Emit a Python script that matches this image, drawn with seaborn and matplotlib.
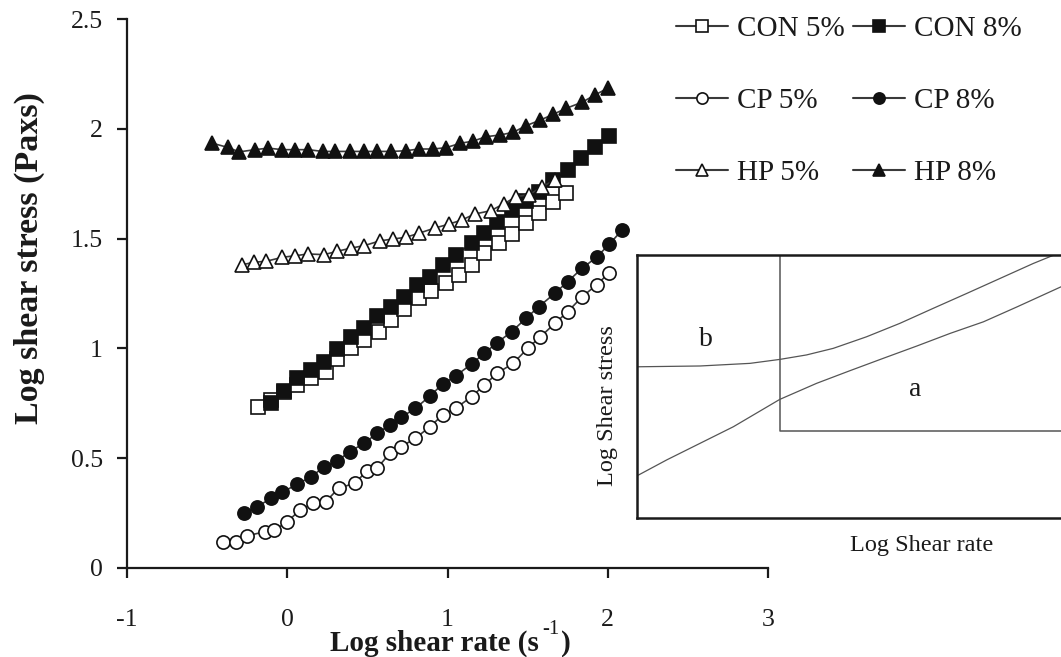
import numpy as np
import pandas as pd
import matplotlib
matplotlib.use("Agg")
import matplotlib.pyplot as plt
import seaborn as sns
from matplotlib.lines import Line2D

# ---------------- data ----------------
con5_x = [-0.18, -0.10, -0.02, 0.06, 0.15, 0.24, 0.31, 0.40, 0.48, 0.57, 0.65, 0.73,
          0.82, 0.90, 0.99, 1.07, 1.15, 1.23, 1.32, 1.40, 1.49, 1.57, 1.66, 1.74]
con5_y = [0.735, 0.765, 0.800, 0.835, 0.865, 0.894, 0.950, 1.000, 1.040, 1.076, 1.129, 1.178,
          1.228, 1.262, 1.299, 1.335, 1.380, 1.433, 1.481, 1.521, 1.572, 1.618, 1.668, 1.709]

con8_x = [-0.10, -0.02, 0.06, 0.15, 0.23, 0.31, 0.40, 0.48, 0.56, 0.65, 0.73, 0.81, 0.89,
          0.97, 1.05, 1.15, 1.23, 1.31, 1.40, 1.49, 1.57, 1.66, 1.75, 1.83, 1.92, 2.01]
con8_y = [0.750, 0.807, 0.864, 0.902, 0.939, 0.996, 1.053, 1.092, 1.149, 1.187, 1.235, 1.289, 1.327,
          1.380, 1.425, 1.479, 1.524, 1.577, 1.630, 1.673, 1.714, 1.767, 1.812, 1.867, 1.918, 1.967]

cp5_x = [-0.40, -0.32, -0.25, -0.14, -0.08, 0.00, 0.08, 0.16, 0.24, 0.32, 0.42, 0.50, 0.56, 0.64, 0.71,
         0.80, 0.89, 0.97, 1.05, 1.15, 1.23, 1.31, 1.41, 1.50, 1.58, 1.67, 1.75, 1.84, 1.93, 2.01]
cp5_y = [0.120, 0.120, 0.147, 0.165, 0.173, 0.211, 0.264, 0.295, 0.302, 0.363, 0.386, 0.443, 0.454, 0.522, 0.552,
         0.591, 0.643, 0.697, 0.727, 0.780, 0.833, 0.887, 0.932, 1.000, 1.053, 1.114, 1.167, 1.235, 1.289, 1.345]

cp8_x = [-0.27, -0.19, -0.10, -0.03, 0.06, 0.15, 0.23, 0.31, 0.39, 0.48, 0.56, 0.64, 0.71, 0.80, 0.89,
         0.97, 1.05, 1.15, 1.23, 1.31, 1.40, 1.49, 1.57, 1.67, 1.75, 1.84, 1.93, 2.01, 2.09]
cp8_y = [0.252, 0.279, 0.317, 0.345, 0.381, 0.416, 0.461, 0.487, 0.530, 0.568, 0.613, 0.651, 0.686, 0.727, 0.783,
         0.838, 0.874, 0.929, 0.978, 1.026, 1.076, 1.137, 1.190, 1.251, 1.304, 1.365, 1.415, 1.475, 1.539]

hp5_x = [-0.28, -0.21, -0.13, -0.03, 0.05, 0.13, 0.23, 0.31, 0.40, 0.48, 0.58, 0.66,
         0.74, 0.82, 0.92, 1.01, 1.09, 1.17, 1.27, 1.35, 1.43, 1.51, 1.59, 1.67]
hp5_y = [1.381, 1.392, 1.397, 1.415, 1.422, 1.430, 1.427, 1.442, 1.457, 1.468, 1.490, 1.498,
         1.506, 1.524, 1.548, 1.566, 1.585, 1.612, 1.627, 1.658, 1.691, 1.700, 1.736, 1.767]

hp8_x = [-0.47, -0.37, -0.30, -0.20, -0.12, -0.03, 0.05, 0.13, 0.22, 0.30, 0.39, 0.48, 0.56, 0.65, 0.74,
         0.82, 0.91, 0.99, 1.08, 1.16, 1.24, 1.33, 1.41, 1.49, 1.58, 1.66, 1.74, 1.84, 1.92, 2.00]
hp8_y = [1.935, 1.915, 1.895, 1.905, 1.912, 1.905, 1.905, 1.905, 1.897, 1.897, 1.897, 1.897, 1.897, 1.897, 1.900,
         1.908, 1.908, 1.914, 1.934, 1.944, 1.964, 1.972, 1.984, 2.014, 2.040, 2.066, 2.093, 2.121, 2.154, 2.185]

series_names = ["CON 5%", "CON 8%", "CP 5%", "CP 8%", "HP 5%", "HP 8%"]

x_ticks = [-1, 0, 1, 2, 3]
x_tick_labels = ["-1", "0", "1", "2", "3"]
y_ticks = [0, 0.5, 1, 1.5, 2, 2.5]
y_tick_labels = ["0", "0.5", "1", "1.5", "2", "2.5"]

# schematic inset curves (inset unit coordinates)
inset_b_x = [0.003, 0.144, 0.258, 0.326, 0.387, 0.448, 0.524, 0.600, 0.676, 0.753, 0.829, 0.905, 0.958]
inset_b_y = [0.575, 0.578, 0.588, 0.603, 0.620, 0.645, 0.689, 0.740, 0.797, 0.854, 0.911, 0.968, 1.004]
inset_a_x = [0.003, 0.068, 0.144, 0.220, 0.326, 0.410, 0.486, 0.562, 0.639, 0.715, 0.791, 0.868, 0.968]
inset_a_y = [0.163, 0.221, 0.284, 0.347, 0.451, 0.512, 0.560, 0.607, 0.654, 0.702, 0.746, 0.803, 0.879]
inset_box_x = [0.326, 0.326, 1.2]
inset_box_y = [1.0, 0.331, 0.331]

# ---------------- styling ----------------
sns.set_theme(style="white")
plt.rcParams["font.family"] = ["Liberation Serif", "DejaVu Serif"]
plt.rcParams["axes.unicode_minus"] = False

W, H = 1061, 657
fig = plt.figure(figsize=(W / 100, H / 100), dpi=100)
fig.patch.set_facecolor("white")
ink = "#1a1a1a"

ax = fig.add_axes([127 / W, (H - 568) / H, (768 - 127) / W, (568 - 19) / H])
ax.set_facecolor("white")

rows = []
for name, xs, ys in [("CON 5%", con5_x, con5_y), ("CON 8%", con8_x, con8_y),
                     ("CP 5%", cp5_x, cp5_y), ("CP 8%", cp8_x, cp8_y),
                     ("HP 5%", hp5_x, hp5_y), ("HP 8%", hp8_x, hp8_y)]:
    for a, b in zip(xs, ys):
        rows.append({"series": name, "rate": a, "stress": b})
df = pd.DataFrame(rows)

style = {
    "CON 5%": dict(marker="s", mfc="white", ms=9.8),
    "CON 8%": dict(marker="s", mfc="#111111", ms=9.8),
    "CP 5%": dict(marker="o", mfc="white", ms=9.5),
    "CP 8%": dict(marker="o", mfc="#111111", ms=9.5),
    "HP 5%": dict(marker="^", mfc="white", ms=10.5),
    "HP 8%": dict(marker="^", mfc="#111111", ms=10.5),
}
line_col = "#3a3a3a"
handles = {}
for name in series_names:
    st = style[name]
    sub = df[df["series"] == name]
    sns.lineplot(data=sub, x="rate", y="stress", ax=ax, estimator=None, sort=False,
                 color=line_col, linewidth=1.2, marker=st["marker"], markersize=st["ms"],
                 markerfacecolor=st["mfc"], markeredgecolor="#111111", markeredgewidth=1.2,
                 legend=False, clip_on=False)
    handles[name] = Line2D([0], [0], color=line_col, linewidth=1.5, marker=st["marker"],
                           markersize=st["ms"] * 0.85, markerfacecolor=st["mfc"],
                           markeredgecolor="#111111", markeredgewidth=1.2)

ax.set_xlim(-1, 3)
ax.set_ylim(0, 2.5)
ax.set_xticks(x_ticks)
ax.set_xticklabels(x_tick_labels)
ax.set_yticks(y_ticks)
ax.set_yticklabels(y_tick_labels)
ax.set_xlabel("")
ax.set_ylabel("")
for s in ["top", "right"]:
    ax.spines[s].set_visible(False)
for s in ["left", "bottom"]:
    ax.spines[s].set_color(ink)
    ax.spines[s].set_linewidth(1.6)
ax.tick_params(axis="both", which="major", direction="out", length=7.5, width=1.6,
               color=ink, labelsize=18.5, labelcolor=ink)
ax.tick_params(axis="y", pad=10, left=True)
ax.tick_params(axis="x", pad=22, bottom=True)
ax.grid(False)

fig.text(29 / W, (H - 258) / H, "Log shear stress (Paxs)", rotation=90, ha="center", va="center",
         fontsize=24.5, fontweight="bold", color=ink)

# x label with a plain hyphen superscript, built from three texts
renderer = fig.canvas.get_renderer()
base_y = (H - 651) / H
t1 = fig.text(330 / W, base_y, "Log shear rate (s", ha="left", va="baseline",
              fontsize=21, fontweight="bold", color=ink)
bb1 = t1.get_window_extent(renderer)
t2 = fig.text((bb1.x1 + 3) / W, (H - 634) / H, "-1", ha="left", va="baseline",
              fontsize=15, color=ink)
bb2 = t2.get_window_extent(renderer)
fig.text((bb2.x1 + 2) / W, base_y, ")", ha="left", va="baseline",
         fontsize=21, fontweight="bold", color=ink)

order = ["CON 5%", "CP 5%", "HP 5%", "CON 8%", "CP 8%", "HP 8%"]
leg = fig.legend([handles[n] for n in order], order, loc="upper left",
                 bbox_to_anchor=(676 / W, 1 - 16 / H), ncol=2, frameon=False,
                 fontsize=21, handlelength=1.78, handletextpad=0.31, columnspacing=0.3,
                 labelspacing=1.56, borderpad=0, borderaxespad=0)
for t in leg.get_texts():
    t.set_color(ink)

# ---------------- inset schematic ----------------
ins = fig.add_axes([637 / W, (H - 518) / H, (1075 - 637) / W, (518 - 255) / H])
ins.set_facecolor("white")
ins.set_xlim(0, 1)
ins.set_ylim(0, 1)
ins.set_xticks([])
ins.set_yticks([])
for s in ["left", "bottom", "top"]:
    ins.spines[s].set_color(ink)
    ins.spines[s].set_linewidth(1.8)
ins.spines["right"].set_visible(False)
thin = "#555555"
sns.lineplot(x=inset_b_x, y=inset_b_y, ax=ins, color=thin, linewidth=0.9, estimator=None, sort=False)
sns.lineplot(x=inset_a_x, y=inset_a_y, ax=ins, color=thin, linewidth=0.9, estimator=None, sort=False)
sns.lineplot(x=inset_box_x, y=inset_box_y, ax=ins, color=thin, linewidth=1.1, estimator=None, sort=False)
ins.text(0.158, 0.677, "b", ha="center", va="center", fontsize=20, color=ink)
ins.text(0.634, 0.487, "a", ha="center", va="center", fontsize=20, color=ink)
fig.text(607 / W, (H - 406) / H, "Log Shear stress", rotation=90, ha="center", va="center",
         fontsize=17.5, color=ink)
fig.text(922 / W, (H - 546) / H, "Log Shear rate", ha="center", va="center",
         fontsize=17.5, color=ink)

fig.savefig("out.png", dpi=100, facecolor="white")
